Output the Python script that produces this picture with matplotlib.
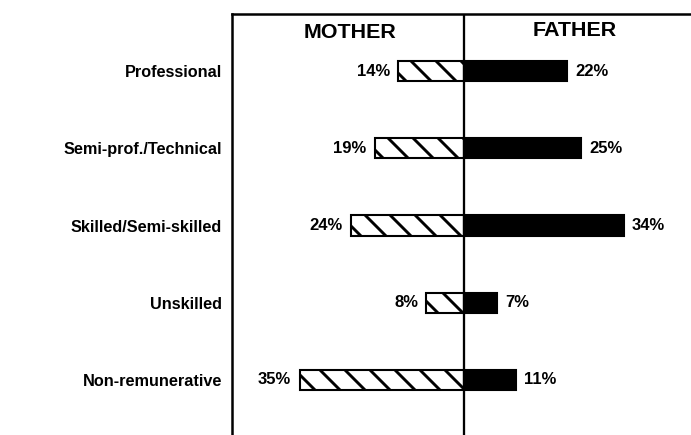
"""Butterfly bar chart: occupation of mother vs father."""

import matplotlib.pyplot as plt
import numpy as np

categories = ["Professional", "Semi-prof./Technical", "Skilled/Semi-skilled",
              "Unskilled", "Non-remunerative"]
mother = [14, 19, 24, 8, 35]
father = [22, 25, 34, 7, 11]

plt.rcParams["font.family"] = ["Liberation Sans", "DejaVu Sans"]
plt.rcParams["font.weight"] = "bold"
plt.rcParams["hatch.linewidth"] = 1.4

DPI = 150
fig = plt.figure(figsize=(691 / DPI, 435 / DPI), dpi=DPI)
ax = fig.add_axes([232 / 691, 0.0, 458 / 691, 1 - 14 / 435])

y = np.arange(len(categories))
h = 0.26
ax.barh(y, [-m for m in mother], height=h, color="white", edgecolor="black",
        hatch="\\\\", linewidth=1.0)
ax.barh(y, father, height=h, color="black", edgecolor="black", linewidth=1.0)
ax.axvline(0, color="black", linewidth=1.1)

for yi, m, f in zip(y, mother, father):
    ax.annotate(f"{m}%", (-m, yi), xytext=(-4, 0), textcoords="offset points",
                ha="right", va="center", fontsize=8, fontweight="bold")
    ax.annotate(f"{f}%", (f, yi), xytext=(4, 0), textcoords="offset points",
                ha="left", va="center", fontsize=8, fontweight="bold")

ax.text(-24.3, 0.955, "MOTHER", transform=ax.get_xaxis_transform(),
        ha="center", va="center", fontsize=10.3, fontweight="bold")
ax.text(23.6, 0.96, "FATHER", transform=ax.get_xaxis_transform(),
        ha="center", va="center", fontsize=10.3, fontweight="bold")

ax.set_xlim(-49.4, 48.1)
ax.set_ylim(4.712, -0.738)
ax.set_yticks(y)
ax.set_yticklabels(categories, fontsize=7.8, fontweight="bold")
ax.tick_params(axis="y", length=0, pad=4.8)
ax.set_xticks([])
for side in ("right", "bottom"):
    ax.spines[side].set_visible(False)
for side in ("left", "top"):
    ax.spines[side].set_linewidth(1.2)

fig.savefig("out.png", dpi=DPI)
